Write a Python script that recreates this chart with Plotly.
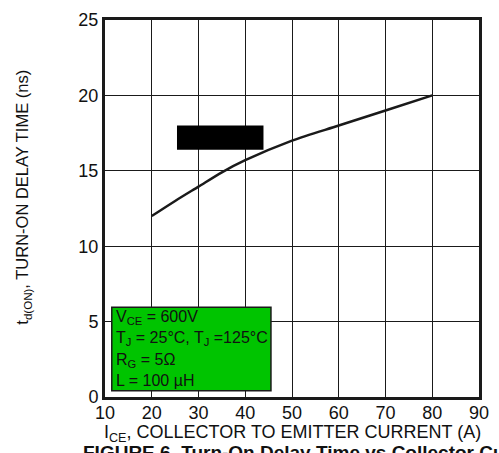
import plotly.graph_objects as go

# Data
current_a = [20, 25, 30, 35, 40, 50, 60, 70, 80]
delay_ns = [12.0, 13.0, 13.95, 14.9, 15.7, 17.0, 18.0, 19.0, 20.0]

x_ticks = [10, 20, 30, 40, 50, 60, 70, 80, 90]
y_ticks = [0, 5, 10, 15, 20, 25]

legend_lines = [
    "V<sub>CE</sub> = 600V",
    "T<sub>J</sub> = 25°C, T<sub>J</sub> =125°C",
    "R<sub>G</sub> = 5Ω",
    "L = 100 µH",
]

FONT = "Liberation Sans, Arial, sans-serif"

fig = go.Figure()
fig.add_trace(go.Scatter(
    x=current_a, y=delay_ns, mode="lines",
    line=dict(color="#1a1a1a", width=2.5, shape="spline", smoothing=0.8),
    showlegend=False, hoverinfo="skip",
))

# black redaction box
fig.add_shape(type="rect", xref="x", yref="y", x0=25.4, x1=43.9, y0=16.4, y1=18.0,
              fillcolor="black", line=dict(width=0), layer="above")
# green condition box
fig.add_shape(type="rect", xref="x", yref="y", x0=11.45, x1=45.5, y0=0.42, y1=5.95,
              fillcolor="#00c400", line=dict(color="#1a1a1a", width=1.5), layer="above")

line_y = [5.3, 3.85, 2.4, 1.1]
for txt, yy in zip(legend_lines, line_y):
    fig.add_annotation(x=11.9, y=yy, xref="x", yref="y", text=txt, showarrow=False,
                       xanchor="left", yanchor="middle",
                       font=dict(family=FONT, size=16, color="#111"))

fig.add_annotation(x=0.5, y=-0.097, xref="paper", yref="paper",
                   text="I<sub>CE</sub>, COLLECTOR TO EMITTER CURRENT (A)",
                   showarrow=False, xanchor="center", yanchor="middle",
                   font=dict(family=FONT, size=18, color="#111"))
fig.add_annotation(x=-0.218, y=0.53, xref="paper", yref="paper",
                   text="t<sub>d(ON)</sub>, TURN-ON DELAY TIME (ns)",
                   textangle=-90, showarrow=False, xanchor="center", yanchor="middle",
                   font=dict(family=FONT, size=16.5, color="#111"))
fig.add_annotation(x=-0.065, y=-0.113, xref="paper", yref="paper",
                   text="<b>FIGURE 6. Turn-On Delay Time vs Collector Current</b>",
                   showarrow=False, xanchor="left", yanchor="top",
                   font=dict(family=FONT, size=19, color="#111"))

axis_common = dict(
    showgrid=True, gridcolor="#1a1a1a", gridwidth=1.2,
    showline=True, linecolor="#1a1a1a", linewidth=3, mirror=True,
    ticks="", zeroline=False,
    tickfont=dict(family=FONT, size=18, color="#111"),
)
fig.update_xaxes(range=[10, 90], tickvals=x_ticks, ticklabelstandoff=-3, **axis_common)
fig.update_yaxes(range=[0, 25], tickvals=y_ticks, **axis_common)

fig.update_layout(
    width=499, height=453,
    margin=dict(l=105, r=10, t=14, b=56),
    paper_bgcolor="white", plot_bgcolor="white",
    showlegend=False,
)

fig.write_html("out.html", config={"displayModeBar": False},
               post_script="document.body.style.margin='0';document.body.style.overflow='hidden';")
